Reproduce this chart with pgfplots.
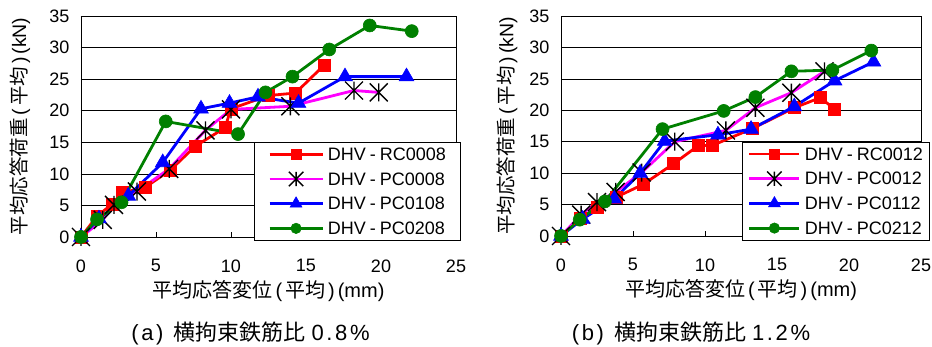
\documentclass[border=0pt]{standalone}
\usepackage{pgfplots}
\pgfplotsset{compat=1.18}
\usepackage{fontspec}
\setmainfont{Liberation Sans}
\newfontfamily\cjk{Noto Sans CJK JP}
\newfontfamily\capfont[LetterSpace=12]{Liberation Sans}
\definecolor{xred}{RGB}{255,0,0}
\definecolor{xmag}{RGB}{255,0,255}
\definecolor{xblue}{RGB}{0,0,255}
\definecolor{xgreen}{RGB}{0,128,0}
\pgfdeclareplotmark{xstar}{%
  \pgfpathmoveto{\pgfqpoint{-\pgfplotmarksize}{-\pgfplotmarksize}}%
  \pgfpathlineto{\pgfqpoint{\pgfplotmarksize}{\pgfplotmarksize}}%
  \pgfpathmoveto{\pgfqpoint{-\pgfplotmarksize}{\pgfplotmarksize}}%
  \pgfpathlineto{\pgfqpoint{\pgfplotmarksize}{-\pgfplotmarksize}}%
  \pgfpathmoveto{\pgfqpoint{0pt}{-\pgfplotmarksize}}%
  \pgfpathlineto{\pgfqpoint{0pt}{\pgfplotmarksize}}%
  \pgfusepathqstroke}
\pgfplotsset{
  myax/.style={
    scale only axis,
    xmin=0, xmax=25, ymin=0, ymax=35,
    xtick={0,5,...,25}, ytick={0,5,...,35},
    ymajorgrids, grid style={black, line width=0.6pt},
    axis line style={black, line width=0.8pt},
    tick align=inside, tick pos=left, major tick length=5pt,
    tick style={black, line width=0.6pt},
    clip=false,
    /pgf/number format/assume math mode=true,
    ticklabel style={font=\fontsize{18}{18}\selectfont},
    xticklabel style={yshift=-19pt},
    yticklabel style={xshift=-8pt},
    xlabel style={font=\fontsize{20}{20}\selectfont, anchor=center},
    ylabel style={font=\fontsize{19.5}{19.5}\selectfont, anchor=center},
    legend cell align=left,
    legend style={anchor=north west, draw=black, line width=0.6pt, fill=white,
      inner ysep=3.5pt, row sep=7.7pt, column sep=4pt,
      font=\fontsize{18}{18}\selectfont,
      nodes={inner sep=0pt, text height=12.5pt, text depth=0pt}},
  },
  sRC/.style={xred, line width=2.8pt, mark=square*, mark size=6pt,
    mark options={solid, fill=xred, draw=xred, line width=0.6pt}},
  sP0/.style={xmag, line width=2.8pt, mark=xstar, mark size=9pt,
    mark options={solid, draw=black, line width=1.4pt}},
  sP1/.style={xblue, line width=2.8pt, mark=triangle*, mark size=8.5pt,
    mark options={solid, fill=xblue, draw=xblue, line width=0.6pt}},
  sP2/.style={xgreen, line width=2.8pt, mark=*, mark size=6.5pt,
    mark options={solid, fill=xgreen, draw=xgreen, line width=0.6pt}},
}
\newcommand{\dhv}[1]{DHV\hspace{4pt}-\hspace{4pt}#1}
\begin{document}
\begin{tikzpicture}
\path[use as bounding box] (0pt,0pt) rectangle (932pt,347pt);
% ---------------- (a) ----------------
\begin{axis}[myax, at={(81pt,110pt)}, anchor=south west, width=375pt, height=221pt,
  xlabel={{\cjk 平均応答変位}\hspace{3pt}(\hspace{3pt}{\cjk 平均}\hspace{3pt})\hspace{3pt}(mm)},
  ylabel={{\cjk 平均応答荷重}\hspace{3pt}(\hspace{3pt}{\cjk 平均}\hspace{3pt})\hspace{3pt}(kN)},
  xlabel style={at={(axis description cs:0.5,-0.244)}},
  ylabel style={at={(axis description cs:-0.163,0.5)}},
  legend style={at={(axis description cs:0.461,0.430)}, inner xsep=14pt},
  legend image code/.code={\path[draw=none,fill=none] (0pt,-8.5pt) (53pt,8.5pt);
    \draw[mark repeat=2, mark phase=2, #1, line width=2.8pt, every mark/.append style={scale=0.8}]
      plot coordinates {(0pt,0pt) (26.5pt,0pt) (53pt,0pt)};},
]
\addplot[sRC] coordinates {(0,0) (1.07,3.3) (2.07,5.2) (2.75,7.0) (4.3,7.9) (5.96,10.6) (7.63,14.4) (9.6,17.3) (10.0,20.3) (12.5,22.4) (14.3,22.8) (16.2,27.2)};
\addlegendentry{\dhv{RC0008}}
\addplot[sP0] coordinates {(0,0) (1.45,2.7) (2.2,5.1) (3.73,7.2) (5.88,10.8) (8.3,16.9) (10.0,20.2) (13.96,20.7) (18.2,23.2) (19.85,22.9)};
\addlegendentry{\dhv{PC0008}}
\addplot[sP1] coordinates {(0,0) (1.2,2.9) (3.15,6.5) (5.45,11.8) (8.0,20.3) (9.9,21.2) (11.8,22.2) (14.5,21.2) (17.6,25.4) (21.7,25.4)};
\addlegendentry{\dhv{PC0108}}
\addplot[sP2] coordinates {(0,0) (1.07,2.8) (2.7,5.5) (5.65,18.3) (10.47,16.3) (12.3,22.9) (14.1,25.4) (16.55,29.7) (19.25,33.5) (22.05,32.6)};
\addlegendentry{\dhv{PC0208}}
\end{axis}
% ---------------- (b) ----------------
\begin{axis}[myax, at={(561pt,111pt)}, anchor=south west, width=360pt, height=220pt,
  xlabel={{\cjk 平均応答変位}\hspace{3pt}(\hspace{3pt}{\cjk 平均}\hspace{3pt})\hspace{3pt}(mm)},
  ylabel={{\cjk 平均応答荷重}\hspace{3pt}(\hspace{3pt}{\cjk 平均}\hspace{3pt})\hspace{3pt}(kN)},
  xlabel style={at={(axis description cs:0.5,-0.2455)}},
  ylabel style={at={(axis description cs:-0.15,0.5)}},
  legend style={at={(axis description cs:0.502,0.4286)}, inner xsep=6pt},
  legend image code/.code={\path[draw=none,fill=none] (0pt,-8.5pt) (50pt,8.5pt);
    \draw[mark repeat=2, mark phase=2, #1, line width=2.8pt, every mark/.append style={scale=0.8}]
      plot coordinates {(0pt,0pt) (25pt,0pt) (50pt,0pt)};},
]
\addplot[sRC] coordinates {(0,0) (1.35,2.8) (2.55,4.5) (3.85,6.2) (5.7,8.2) (7.82,11.5) (9.55,14.4) (10.5,14.4) (13.3,17.1) (16.2,20.4) (18.0,22.0) (19.0,20.2)};
\addlegendentry{\dhv{RC0012}}
\addplot[sP0] coordinates {(0,0) (1.4,3.4) (2.5,5.4) (3.8,7.0) (5.6,10.1) (7.9,15.0) (11.45,16.8) (13.5,20.4) (16.0,22.8) (18.3,26.2)};
\addlegendentry{\dhv{PC0012}}
\addplot[sP1] coordinates {(0,0) (1.5,2.7) (3.7,5.9) (5.5,10.0) (7.2,15.1) (10.9,16.1) (13.2,17.0) (16.2,20.6) (19.0,24.7) (21.7,27.7)};
\addlegendentry{\dhv{PC0112}}
\addplot[sP2] coordinates {(0,0) (1.3,2.6) (3.05,5.5) (7.05,17.0) (11.3,19.9) (13.5,22.1) (16.0,26.2) (18.85,26.4) (21.55,29.5)};
\addlegendentry{\dhv{PC0212}}
\end{axis}
% ---------------- captions ----------------
\node at (250.5pt,14pt) {\fontsize{22}{22}\selectfont\capfont (a)\hspace{10pt}{\cjk 横拘束鉄筋比}\hspace{6pt}0.8\%};
\node at (691pt,14pt) {\fontsize{22}{22}\selectfont\capfont (b)\hspace{10pt}{\cjk 横拘束鉄筋比}\hspace{6pt}1.2\%};
\end{tikzpicture}
\end{document}
